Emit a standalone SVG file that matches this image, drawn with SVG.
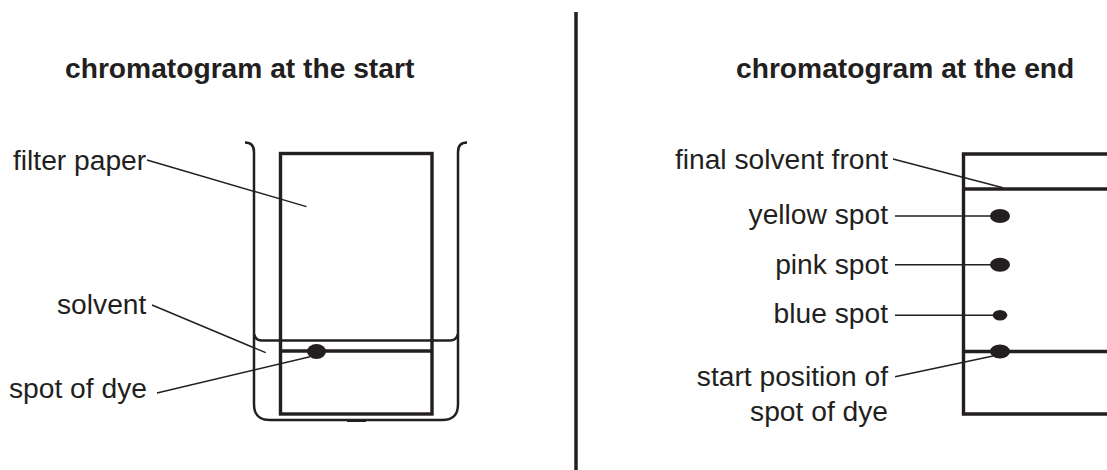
<svg xmlns="http://www.w3.org/2000/svg" width="1107" height="470" viewBox="0 0 1107 470">
<style>
text{font-family:"Liberation Sans",Arial,sans-serif;font-size:28.2px;fill:#231f20}
.t{font-weight:bold;font-size:28.2px}
.e{text-anchor:end}
.thick{fill:none;stroke:#231f20;stroke-width:3.4}
.thin{fill:none;stroke:#231f20;stroke-width:1.4}
.spot{fill:#231f20}
</style>
<rect width="1107" height="470" fill="#fff"/>
<g id="divider"><line class="thick" x1="576" y1="12" x2="576" y2="470" style="stroke-width:3.5"/></g>
<g id="title-start"><text class="t" x="65" y="77.500">chromatogram at the start</text></g>
<g id="title-end"><text class="t" x="736" y="77.500">chromatogram at the end</text></g>
<g id="beaker"><path class="thick" d="M245 142.500C251 142.500 254 146 254 152V404C254 415 259 420 270 420H442C453 420 458 415 458 404V152C458 146 461 142.500 467 142.500" style="stroke-width:2.500"/>
<path class="thick" d="M254 334C255 338 257 340.500 262 340.500H450C455 340.500 457 338 458 334" style="stroke-width:2.500"/>
<line class="thick" x1="347" y1="420.500" x2="366" y2="420.500" style="stroke-width:3"/></g>
<g id="filter-paper"><rect class="thick" x="280.500" y="153.500" width="151.500" height="260.500"/><line class="thick" x1="280.500" y1="351" x2="432" y2="351"/><ellipse class="spot" cx="316.500" cy="351.500" rx="9.500" ry="7.500"/></g>
<g id="paper-end"><path class="thick" d="M1107 154H963.500V414H1107"/><line class="thick" x1="963.500" y1="189" x2="1107" y2="189"/><line class="thick" x1="963.500" y1="351.500" x2="1107" y2="351.500"/>
<ellipse class="spot" cx="1000" cy="216" rx="10" ry="7"/><ellipse class="spot" cx="1000" cy="264.700" rx="10" ry="7"/><ellipse class="spot" cx="1000" cy="315.300" rx="7.300" ry="5.300"/><ellipse class="spot" cx="1000" cy="351.500" rx="10" ry="7"/></g>
<g id="labels">
<text x="13" y="170">filter paper</text>
<text x="57" y="314">solvent</text>
<text x="9" y="398">spot of dye</text>
<text class="e" x="888" y="169">final solvent front</text>
<text class="e" x="888" y="224">yellow spot</text>
<text class="e" x="888" y="274">pink spot</text>
<text class="e" x="888" y="323">blue spot</text>
<text class="e" x="888" y="386">start position of</text>
<text class="e" x="888" y="421">spot of dye</text>
</g>
<g id="connectors">
<line class="thin" x1="147" y1="160" x2="306.500" y2="206.700"/>
<line class="thin" x1="152" y1="305" x2="265.700" y2="352.700"/>
<line class="thin" x1="157" y1="393" x2="310" y2="356.700"/>
<line class="thin" x1="893" y1="159" x2="1003" y2="187.700"/>
<line class="thin" x1="895" y1="216" x2="992" y2="216"/>
<line class="thin" x1="895" y1="264.700" x2="992" y2="264.700"/>
<line class="thin" x1="895" y1="315.300" x2="994" y2="315.300"/>
<line class="thin" x1="895" y1="376.700" x2="993" y2="356"/>
</g>
</svg>
